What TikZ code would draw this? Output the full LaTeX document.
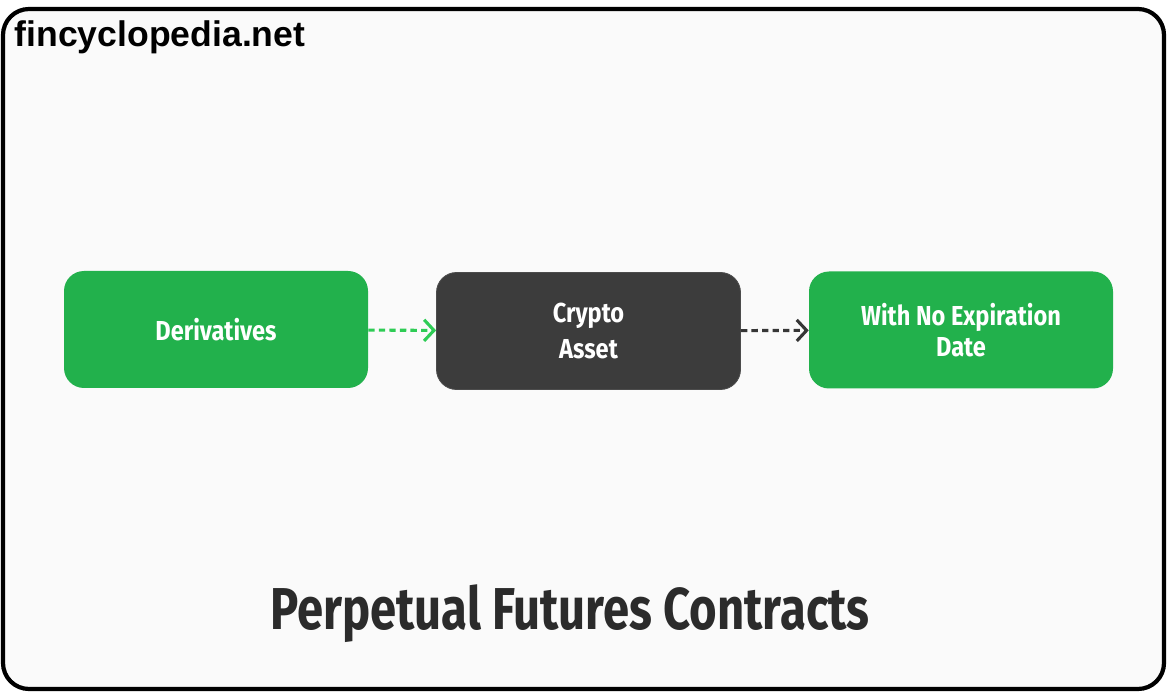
\documentclass[tikz,border=0pt]{standalone}
\usepackage{fontspec}
\setmainfont{Liberation Sans}
\newfontfamily\boxfont[FakeStretch=0.86]{Fira Sans Bold}
\newfontfamily\titlefont[FakeStretch=0.80]{Fira Sans Bold}
\usetikzlibrary{arrows.meta}
\definecolor{fingreen}{HTML}{22B14C}
\definecolor{arrgreen}{HTML}{2ECC55}
\definecolor{findark}{HTML}{3C3C3C}
\definecolor{fintitle}{HTML}{2B2B2B}
\definecolor{finbg}{HTML}{FAFAFA}
\begin{document}
\begin{tikzpicture}
[x=0.025cm,y=-0.025cm,
  stepbox/.style={shape=rectangle,rounded corners=20*0.025cm,minimum width=304*0.025cm,
    minimum height=117*0.025cm,text=white,align=center,
    font=\boxfont\fontsize{19.5}{25}\selectfont},%
  greenbox/.style={stepbox,fill=fingreen},%
  darkbox/.style={stepbox,fill=findark,draw=black!70,line width=0.6pt},%
  linedecorate/.style={line width=2.2pt,dash pattern=on 4.5pt off 3pt,
    -{Straight Barb[length=7pt,width=15pt,line width=2.2pt]}}]
%%% frame and background
\fill[white] (0,0) rectangle (1170,694);
\draw[line width=3pt,rounded corners=26*0.025cm,fill=finbg] (3,9) rectangle (1164,689);
\useasboundingbox (0,0) rectangle (1170,694);
%%% site name
\node (site) at (160,37) [font=\bfseries\fontsize{25.3}{28}\selectfont] {fincyclopedia.net};
%%% steps
% nodes
\node (deriv) at (216,329.5) [greenbox] {Derivatives};
\node (crypto) at (588.5,331) [darkbox] {Crypto\\Asset};
\node (expiry) at (961,330) [greenbox,font=\boxfont\fontsize{19.5}{22.5}\selectfont] {With No Expiration\\Date};
% arrows
\path
(deriv) edge[linedecorate,draw=arrgreen] node {} (crypto)
(crypto) edge[linedecorate,draw=findark!90!black] node {} (expiry);
%%% caption
\node (title) at (570,614) [text=fintitle,font=\titlefont\fontsize{42}{46}\selectfont] {Perpetual Futures Contracts};
\end{tikzpicture}
\end{document}
